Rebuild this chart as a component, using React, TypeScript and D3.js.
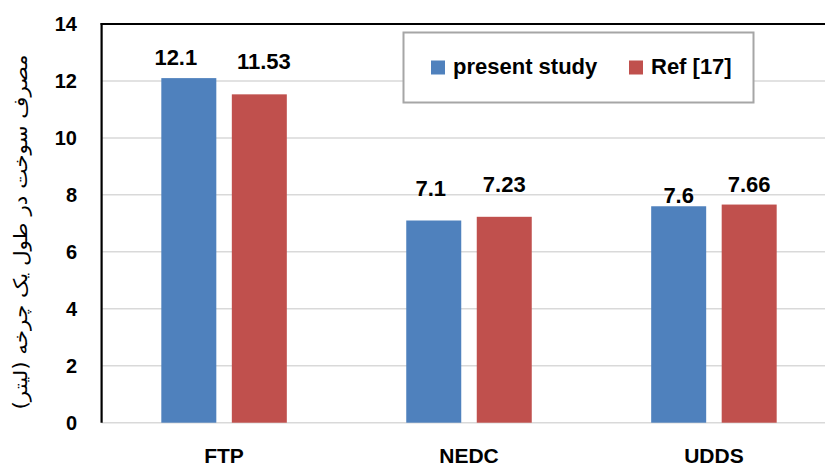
import React from "react";
import * as d3 from "d3";

const categories = ["FTP", "NEDC", "UDDS"];
const seriesNames = ["present study", "Ref [17]"];
const presentStudy = [12.1, 7.1, 7.6];
const ref17 = [11.53, 7.23, 7.66];
const yTicks = [0, 2, 4, 6, 8, 10, 12, 14];
const yTitle = "مصرف سوخت در طول یک چرخه (لیتر)";

// hand-placed nudges for the value labels (px): [category][series]
const labelDx = [[-13, 4.6], [-3, 0], [0, 0]];
const labelLift = [[13, 25], [24.5, 25], [3.5, 13]];

const colors = ["#4f81bd", "#c0504d"];
const W = 825;
const H = 468;
const FONT = "'Liberation Sans', Arial, sans-serif";

export default function App() {
  const series = [presentStudy, ref17];
  const plotLeft = 101.6;
  const plotRight = 836.4;
  const plotTop = 24;
  const plotBottom = 422.7;

  const y = d3.scaleLinear().domain([0, 14]).range([plotBottom, plotTop]);
  const x0 = d3.scaleBand<string>().domain(categories).range([plotLeft, plotRight]);
  const clusterW = 125.5;
  const x1 = d3.scaleBand<number>().domain([0, 1]).range([0, clusterW]).paddingInner(0.22);
  const clusterOffset = (x0.bandwidth() - clusterW) / 2;

  return (
    <svg
      width={W}
      height={H}
      style={{ position: "absolute", left: 0, top: 0, background: "#fff" }}
      fontFamily={FONT}
    >
      <rect x={0} y={0} width={W} height={H} fill="#fff" />
      {/* gridlines */}
      {yTicks.map((t) => (
        <line
          key={"g" + t}
          x1={plotLeft}
          x2={W}
          y1={y(t)}
          y2={y(t)}
          stroke="#d9d9d9"
          strokeWidth={1.5}
        />
      ))}
      {/* bars */}
      {categories.map((c, ci) =>
        series.map((s, si) => {
          const bx = (x0(c) as number) + clusterOffset + (x1(si) as number);
          return (
            <rect
              key={c + si}
              x={bx}
              y={y(s[ci])}
              width={x1.bandwidth()}
              height={y(0) - y(s[ci])}
              fill={colors[si]}
            />
          );
        })
      )}
      {/* value labels */}
      {categories.map((c, ci) =>
        series.map((s, si) => {
          const cx = (x0(c) as number) + clusterOffset + (x1(si) as number) + x1.bandwidth() / 2;
          return (
            <text
              key={"v" + c + si}
              x={cx + labelDx[ci][si]}
              y={y(s[ci]) - labelLift[ci][si]}
              textAnchor="middle"
              fontSize={22}
              fontWeight="bold"
              fill="#000"
            >
              {s[ci]}
            </text>
          );
        })
      )}
      {/* plot frame: left and top */}
      <line x1={plotLeft} x2={plotLeft} y1={plotTop - 1} y2={plotBottom} stroke="#000" strokeWidth={2.2} />
      <line x1={plotLeft - 1} x2={W} y1={plotTop} y2={plotTop} stroke="#000" strokeWidth={2.2} />
      {/* y tick labels */}
      {yTicks.map((t) => (
        <text
          key={"t" + t}
          x={77}
          y={y(t)}
          dy="0.36em"
          textAnchor="end"
          fontSize={20}
          fontWeight="bold"
          fill="#000"
        >
          {t}
        </text>
      ))}
      {/* category labels */}
      {categories.map((c) => (
        <text
          key={"c" + c}
          x={(x0(c) as number) + x0.bandwidth() / 2}
          y={462.5}
          textAnchor="middle"
          fontSize={21}
          fontWeight="bold"
          fill="#000"
        >
          {c}
        </text>
      ))}
      {/* y axis title */}
      <text
        transform={`translate(27, 232) rotate(-90)`}
        textAnchor="middle"
        fontSize={19}
        textLength={355}
        lengthAdjust="spacingAndGlyphs"
        fontFamily="'DejaVu Sans', sans-serif"
        fill="#000"
        direction="rtl"
      >
        {yTitle}
      </text>
      {/* legend */}
      <rect x={403.5} y={32.5} width={350} height={70} fill="#fff" stroke="#a6a6a6" strokeWidth={2} />
      {seriesNames.map((n, i) => {
        const lx = i === 0 ? 431 : 629;
        return (
          <g key={n}>
            <rect x={lx} y={60.5} width={14} height={14} fill={colors[i]} />
            <text x={lx + 22} y={74.3} fontSize={22} fontWeight="bold" fill="#000">
              {n}
            </text>
          </g>
        );
      })}
    </svg>
  );
}
